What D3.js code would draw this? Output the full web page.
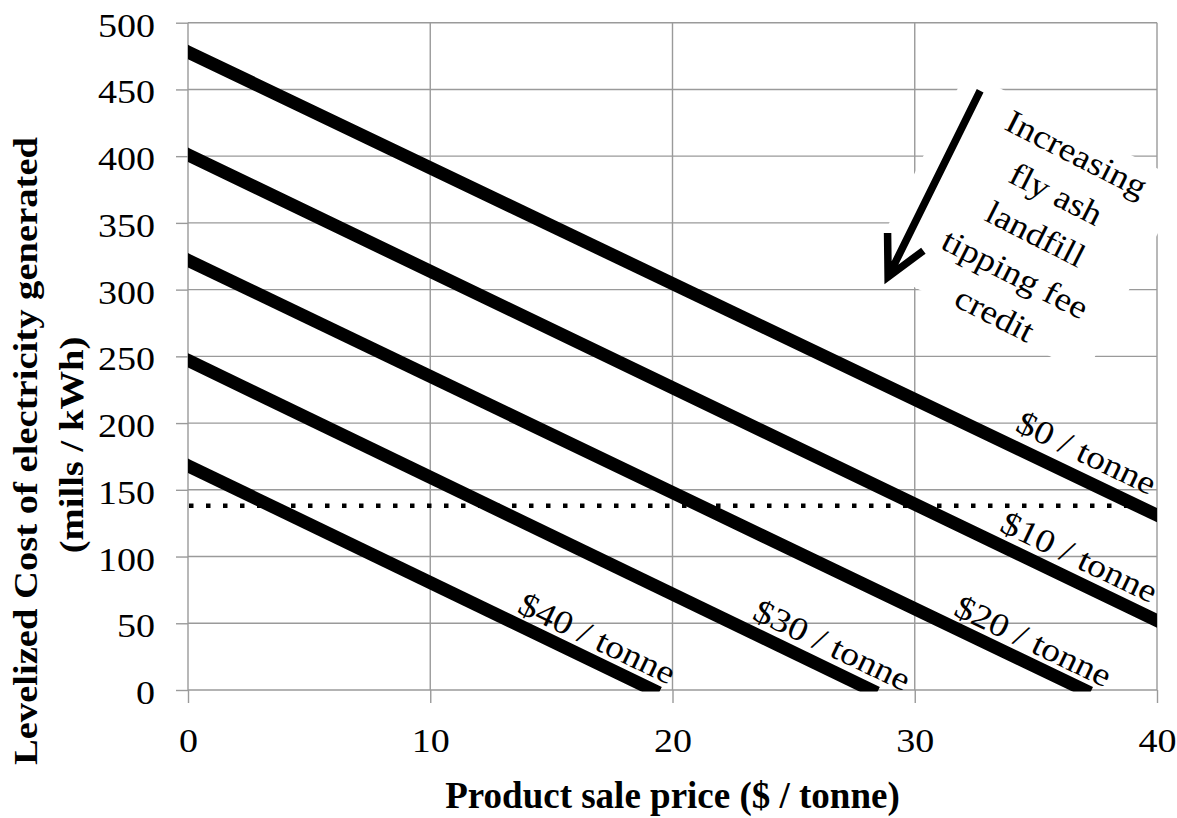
<!DOCTYPE html>
<html><head><meta charset="utf-8">
<script src="https://cdn.jsdelivr.net/npm/d3@7"></script>
<style>
body{margin:0;background:#fff}
svg{display:block}
text{font-family:"Liberation Serif","Times New Roman",serif;fill:#000}
</style>
</head><body>
<svg id="chart" width="1177" height="818"></svg>
<script>
// ---- data ----
const feeLabels = ["$0 / tonne", "$10 / tonne", "$20 / tonne", "$30 / tonne", "$40 / tonne"];
const costAtZeroPrice = [478, 401, 322, 247, 168];
const endPrice = [40, 40, 37.0, 28.2, 19.2];
const endCost = [131, 52, 0, 0, 0];
const priceTicks = [0, 10, 20, 30, 40];
const costTicks = [0, 50, 100, 150, 200, 250, 300, 350, 400, 450, 500];
const referenceCost = 138;
const annotationLines = ["Increasing", "fly ash", "landfill", "tipping fee", "credit"];

// ---- layout ----
const W = 1177, H = 818;
const M = {left: 188, right: 20, top: 22.7, bottom: 128};
const svg = d3.select("#chart");
const x = d3.scaleLinear().domain([0, 40]).range([M.left, W - M.right]);
const y = d3.scaleLinear().domain([0, 500]).range([H - M.bottom, M.top]);
const gridColor = "#9a9a9a";

// clip
svg.append("defs").append("clipPath").attr("id", "plotclip")
  .append("rect").attr("x", x(0)).attr("y", y(500) - 20)
  .attr("width", x(40) - x(0)).attr("height", y(0) - y(500) + 21.5);

// gridlines
const grid = svg.append("g");
grid.selectAll("line.h").data(costTicks).join("line")
  .attr("x1", x(0)).attr("x2", x(40)).attr("y1", d => y(d)).attr("y2", d => y(d))
  .attr("stroke", gridColor).attr("stroke-width", 1.4);
grid.selectAll("line.v").data(priceTicks).join("line")
  .attr("y1", y(0)).attr("y2", y(500)).attr("x1", d => x(d)).attr("x2", d => x(d))
  .attr("stroke", gridColor).attr("stroke-width", 1.4);

// axes (ticks + labels)
const yAxis = svg.append("g").attr("transform", `translate(${x(0)},0)`)
  .call(d3.axisLeft(y).tickValues(costTicks).tickSize(12).tickPadding(0).tickFormat(d3.format("d")));
yAxis.select(".domain").remove();
yAxis.selectAll(".tick line").attr("stroke", gridColor).attr("stroke-width", 1.4);
yAxis.selectAll(".tick text")
  .attr("x", null).attr("dy", null)
  .attr("transform", "translate(-33,13.5) scale(1.12,1)")
  .style("font-size", "34px").attr("text-anchor", "end").attr("font-family", null);

const xAxis = svg.append("g").attr("transform", `translate(0,${y(0)})`)
  .call(d3.axisBottom(x).tickValues(priceTicks).tickSize(13).tickPadding(0).tickFormat(d3.format("d")));
xAxis.select(".domain").remove();
xAxis.selectAll(".tick line").attr("stroke", gridColor).attr("stroke-width", 1.4);
xAxis.selectAll(".tick text")
  .attr("y", null).attr("dy", null)
  .attr("transform", "translate(0,62) scale(1.12,1)")
  .style("font-size", "34px").attr("text-anchor", "middle").attr("font-family", null);

// annotation white box (rotated)
const boxAngle = 27;
const boxC = [x(34.6), y(350)];
svg.append("rect")
  .attr("x", -122).attr("y", -108).attr("width", 244).attr("height", 216)
  .attr("fill", "#fff")
  .attr("transform", `translate(${boxC[0]},${boxC[1]}) rotate(${boxAngle})`);

// reference dotted line
svg.append("line")
  .attr("x1", x(0) + 1).attr("x2", x(40)).attr("y1", y(referenceCost)).attr("y2", y(referenceCost))
  .attr("stroke", "#000").attr("stroke-width", 4.5).attr("stroke-dasharray", "4.5,12.5");

// series lines
const series = feeLabels.map((lab, i) => ({
  label: lab,
  pts: [[0, costAtZeroPrice[i]], [endPrice[i], endCost[i]]]
}));
const lineGen = d3.line().x(d => x(d[0])).y(d => y(d[1]));
svg.append("g").attr("clip-path", "url(#plotclip)")
  .selectAll("path").data(series).join("path")
  .attr("d", d => lineGen(d.pts))
  .attr("fill", "none").attr("stroke", "#000").attr("stroke-width", 13)
  .attr("stroke-linecap", "square");

// series labels
const labelPos = [[37.1, 178], [36.8, 100], [34.9, 37], [26.6, 34], [16.9, 39]];
const labelAngle = Math.atan((8.7 * (y(0) - y(1))) / (x(1) - x(0))) * 180 / Math.PI;
svg.append("g").selectAll("text").data(series).join("text")
  .attr("transform", (d, i) => `translate(${x(labelPos[i][0])},${y(labelPos[i][1])}) rotate(${labelAngle}) scale(1.14,1)`)
  .attr("text-anchor", "middle").attr("dy", "0.35em")
  .style("font-size", "33px")
  .text(d => d.label);

// arrow
const aStart = [x(32.7), y(449)];
const aTip = [x(28.9), y(309.5)];
const ang = Math.atan2(aStart[1] - aTip[1], aStart[0] - aTip[0]);
const barbLen = 44, barbAng = 27 * Math.PI / 180;
const b1 = [aTip[0] + barbLen * Math.cos(ang - barbAng), aTip[1] + barbLen * Math.sin(ang - barbAng)];
const b2 = [aTip[0] + barbLen * Math.cos(ang + barbAng), aTip[1] + barbLen * Math.sin(ang + barbAng)];
svg.append("path")
  .attr("d", `M${aStart[0]},${aStart[1]}L${aTip[0]},${aTip[1]}M${b1[0]},${b1[1]}L${aTip[0]},${aTip[1]}L${b2[0]},${b2[1]}`)
  .attr("fill", "none").attr("stroke", "#000").attr("stroke-width", 7.5)
  .attr("stroke-linejoin", "miter").attr("stroke-linecap", "butt");

// annotation text
const tAngle = 27 * Math.PI / 180;
const tMid = [x(35.0), y(342)];
const lineStep = 45;
svg.append("g").selectAll("text").data(annotationLines).join("text")
  .attr("transform", (d, i) => {
    const k = i - 2;
    const cx = tMid[0] - Math.sin(tAngle) * lineStep * k;
    const cy = tMid[1] + Math.cos(tAngle) * lineStep * k;
    return `translate(${cx},${cy}) rotate(27) scale(1.12,1)`;
  })
  .attr("text-anchor", "middle").attr("dy", "0.35em")
  .style("font-size", "33px")
  .text(d => d);

// axis titles
svg.append("text")
  .attr("transform", `translate(${(x(0) + x(40)) / 2},808)`)
  .attr("text-anchor", "middle").style("font-size", "37px").style("font-weight", "bold")
  .text("Product sale price ($ / tonne)");
svg.append("text")
  .attr("transform", "translate(37,451) rotate(-90) scale(1.17,1)")
  .attr("text-anchor", "middle").style("font-size", "33px").style("font-weight", "bold")
  .text("Levelized Cost of electricity generated");
svg.append("text")
  .attr("transform", "translate(83,445) rotate(-90) scale(1.17,1)")
  .attr("text-anchor", "middle").style("font-size", "33px").style("font-weight", "bold")
  .text("(mills / kWh)");
</script>
</body></html>
